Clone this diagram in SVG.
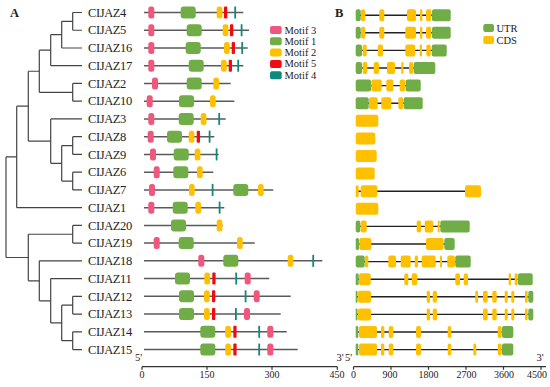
<svg xmlns="http://www.w3.org/2000/svg" xmlns:xlink="http://www.w3.org/1999/xlink" width="550" height="387" viewBox="0 0 550 387">
<style>
text{font-family:"Liberation Serif","Times New Roman",serif;fill:#222}
.lab{font-size:12.5px;letter-spacing:-0.4px}
.leg{font-size:10.5px}
.tk{font-size:10px;text-anchor:middle}
.pan{font-size:12.5px;font-weight:bold}
.tree{stroke:#444;stroke-width:1.2;fill:none}
.bb{stroke:#5a5a5a;stroke-width:1.5}
.gl{stroke:#222;stroke-width:1.4}
.ax{stroke:#333;stroke-width:1.2;fill:none}
.m3{fill:#F0577F}.m1{fill:#70AD47}.m2{fill:#FFC000}.m5{fill:#F00A14}.m4{fill:#0E8A7C}
.utr{fill:#70AD47}.cds{fill:#FFC000}
</style>
<defs>
<rect id="p" y="-6" width="6" height="12" rx="2.5" class="m3"/>
<rect id="g" y="-6" width="15" height="12" rx="3" class="m1"/>
<rect id="y" y="-6" width="5.7" height="12" rx="2.5" class="m2"/>
<rect id="r" y="-6" width="3.3" height="12" rx="1" class="m5"/>
<rect id="t" y="-6" width="1.8" height="12" class="m4"/>
</defs>

<g id="labelA"><text class="pan" x="10" y="16.5">A</text></g>
<g id="labelB"><text class="pan" x="335" y="16.5">B</text></g>

<g id="tree" class="tree">
<path d="M72.7,12.5H82M72.7,30.24H82M72.7,12.5V30.24"/>
<path d="M61.7,21.37H72.7M61.7,47.98H82M61.7,21.37V47.98"/>
<path d="M50.7,34.68H61.7M50.7,65.72H82M50.7,34.68V65.72"/>
<path d="M72.7,83.46H82M72.7,101.2H82M72.7,83.46V101.2"/>
<path d="M39.3,50.2H50.7M39.3,92.33H72.7M39.3,50.2V92.33"/>
<path d="M72.7,136.68H82M72.7,154.42H82M72.7,136.68V154.42"/>
<path d="M72.7,172.16H82M72.7,189.9H82M72.7,172.16V189.9"/>
<path d="M61.7,145.55H72.7M61.7,181.03H72.7M61.7,145.55V181.03"/>
<path d="M50.7,118.94H82M50.7,163.29H61.7M50.7,118.94V163.29"/>
<path d="M28.3,71.27H39.3M28.3,141.1H50.7M28.3,71.27V141.1"/>
<path d="M16.7,106.2H28.3M16.7,207.64H82M16.7,106.2V207.64"/>
<path d="M72.7,225.38H82M72.7,243.12H82M72.7,225.38V243.12"/>
<path d="M72.7,296.34H82M72.7,314.08H82M72.7,296.34V314.08"/>
<path d="M72.7,331.82H82M72.7,349.56H82M72.7,331.82V349.56"/>
<path d="M61.7,305.2H72.7M61.7,340.7H72.7M61.7,305.2V340.7"/>
<path d="M50.7,278.6H82M50.7,322.95H61.7M50.7,278.6V322.95"/>
<path d="M39.3,260.86H82M39.3,300.8H50.7M39.3,260.86V300.8"/>
<path d="M28.3,234.25H72.7M28.3,280.8H39.3M28.3,234.25V280.8"/>
<path d="M6,156.9H16.7M6,257.5H28.3M6,156.9V257.5"/>
</g>

<g id="labels">
<text class="lab" x="88" y="16.7">CIJAZ4</text>
<text class="lab" x="88" y="34.44">CIJAZ5</text>
<text class="lab" x="88" y="52.18">CIJAZ16</text>
<text class="lab" x="88" y="69.92">CIJAZ17</text>
<text class="lab" x="88" y="87.66">CIJAZ2</text>
<text class="lab" x="88" y="105.4">CIJAZ10</text>
<text class="lab" x="88" y="123.14">CIJAZ3</text>
<text class="lab" x="88" y="140.88">CIJAZ8</text>
<text class="lab" x="88" y="158.62">CIJAZ9</text>
<text class="lab" x="88" y="176.36">CIJAZ6</text>
<text class="lab" x="88" y="194.1">CIJAZ7</text>
<text class="lab" x="88" y="211.84">CIJAZ1</text>
<text class="lab" x="88" y="229.58">CIJAZ20</text>
<text class="lab" x="88" y="247.32">CIJAZ19</text>
<text class="lab" x="88" y="265.06">CIJAZ18</text>
<text class="lab" x="88" y="282.8">CIJAZ11</text>
<text class="lab" x="88" y="300.54">CIJAZ12</text>
<text class="lab" x="88" y="318.28">CIJAZ13</text>
<text class="lab" x="88" y="336.02">CIJAZ14</text>
<text class="lab" x="88" y="353.76">CIJAZ15</text>
</g>

<g id="motifs">
<g transform="translate(0,12.5)"><line class="bb" x1="144" x2="243.3"/><use href="#p" x="148.3"/><use href="#g" x="180.7"/><use href="#y" x="216.7"/><use href="#r" x="224"/><use href="#t" x="234.3"/></g>
<g transform="translate(0,30.24)"><line class="bb" x1="144" x2="249"/><use href="#p" x="148.3"/><use href="#g" x="186.7"/><use href="#y" x="222.7"/><use href="#r" x="230"/><use href="#t" x="240.7"/></g>
<g transform="translate(0,47.98)"><line class="bb" x1="144" x2="247.7"/><use href="#p" x="148.3"/><use href="#g" x="185.7"/><use href="#y" x="224"/><use href="#r" x="231.7"/><use href="#t" x="241.3"/></g>
<g transform="translate(0,65.72)"><line class="bb" x1="144" x2="243.3"/><use href="#p" x="148.3"/><use href="#g" x="188.7"/><use href="#y" x="221"/><use href="#r" x="228.7"/><use href="#t" x="237.3"/></g>
<g transform="translate(0,83.46)"><line class="bb" x1="144" x2="230.7"/><use href="#p" x="152"/><use href="#g" x="186.7"/><use href="#y" x="213.3"/></g>
<g transform="translate(0,101.2)"><line class="bb" x1="144" x2="234.3"/><use href="#p" x="146.7"/><use href="#g" x="179"/><use href="#y" x="210"/></g>
<g transform="translate(0,118.94)"><line class="bb" x1="144" x2="225.7"/><use href="#p" x="148.3"/><use href="#g" x="178.7"/><use href="#y" x="200.7"/><use href="#t" x="218.3"/></g>
<g transform="translate(0,136.68)"><line class="bb" x1="144" x2="214.3"/><use href="#p" x="147.7"/><use href="#g" x="167"/><use href="#y" x="188.7"/><use href="#r" x="196.7"/><use href="#t" x="208.7"/></g>
<g transform="translate(0,154.42)"><line class="bb" x1="144" x2="218.7"/><use href="#p" x="150"/><use href="#g" x="173.7"/><use href="#y" x="194.7"/><use href="#t" x="215.7"/></g>
<g transform="translate(0,172.16)"><line class="bb" x1="144" x2="213.3"/><use href="#p" x="153.7"/><use href="#g" x="173.3"/><use href="#y" x="197"/></g>
<g transform="translate(0,189.9)"><line class="bb" x1="144" x2="273.3"/><use href="#p" x="149"/><use href="#y" x="189"/><use href="#t" x="211.7"/><use href="#g" x="233.3"/><use href="#y" x="258"/></g>
<g transform="translate(0,207.64)"><line class="bb" x1="144" x2="224.3"/><use href="#p" x="148.3"/><use href="#g" x="172.7"/><use href="#y" x="195.3"/><use href="#t" x="218.7"/></g>
<g transform="translate(0,225.38)"><line class="bb" x1="144" x2="222.7"/><use href="#g" x="171"/><use href="#y" x="216.7"/></g>
<g transform="translate(0,243.12)"><line class="bb" x1="144" x2="254.7"/><use href="#p" x="153.7"/><use href="#g" x="178.7"/><use href="#y" x="237"/></g>
<g transform="translate(0,260.86)"><line class="bb" x1="144" x2="322.3"/><use href="#p" x="198.3"/><use href="#g" x="223.3"/><use href="#y" x="287.7"/><use href="#t" x="312.3"/></g>
<g transform="translate(0,278.6)"><line class="bb" x1="144" x2="269.3"/><use href="#g" x="175"/><use href="#y" x="204.3"/><use href="#r" x="212.3"/><use href="#t" x="235.3"/><use href="#p" x="244.7"/></g>
<g transform="translate(0,296.34)"><line class="bb" x1="144" x2="290.7"/><use href="#g" x="179"/><use href="#y" x="204"/><use href="#r" x="212"/><use href="#t" x="244.7"/><use href="#p" x="253.7"/></g>
<g transform="translate(0,314.08)"><line class="bb" x1="144" x2="280.7"/><use href="#g" x="179"/><use href="#y" x="204"/><use href="#r" x="212"/><use href="#t" x="235"/><use href="#p" x="244"/></g>
<g transform="translate(0,331.82)"><line class="bb" x1="144" x2="286.7"/><use href="#g" x="200.3"/><use href="#y" x="225.3"/><use href="#r" x="233.3"/><use href="#t" x="258.3"/><use href="#p" x="267.3"/></g>
<g transform="translate(0,349.56)"><line class="bb" x1="144" x2="297.7"/><use href="#g" x="200.3"/><use href="#y" x="225.3"/><use href="#r" x="233.3"/><use href="#t" x="258.3"/><use href="#p" x="267.3"/></g>
</g>

<g id="legendA">
<rect x="270" y="26" width="11.7" height="8" rx="2" class="m3"/><text class="leg" x="284.5" y="33.5">Motif 3</text>
<rect x="270" y="37.3" width="11.7" height="8" rx="2" class="m1"/><text class="leg" x="284.5" y="44.8">Motif 1</text>
<rect x="270" y="48.6" width="11.7" height="8" rx="2" class="m2"/><text class="leg" x="284.5" y="56">Motif 2</text>
<rect x="270" y="59.9" width="11.7" height="8" rx="2" class="m5"/><text class="leg" x="284.5" y="67.3">Motif 5</text>
<rect x="270" y="71.2" width="11.7" height="8" rx="2" class="m4"/><text class="leg" x="284.5" y="78.6">Motif 4</text>
</g>

<g id="genes">
<g transform="translate(0,15.2)"><line class="gl" x1="356" x2="450"/>
<rect class="utr" x="355.7" y="-6" width="5" height="12" rx="2"/><rect class="cds" x="361" y="-6" width="4.3" height="12" rx="2"/><rect class="cds" x="379.3" y="-6" width="5" height="12" rx="2"/><rect class="cds" x="407" y="-6" width="9" height="12" rx="2"/><rect class="cds" x="420" y="-6" width="2.3" height="12" rx="1"/><rect class="cds" x="426" y="-6" width="5.3" height="12" rx="2"/><rect class="utr" x="432" y="-6" width="18.7" height="12" rx="2"/></g>
<g transform="translate(0,32.8)"><line class="gl" x1="356" x2="450"/>
<rect class="utr" x="355.7" y="-6" width="5" height="12" rx="2"/><rect class="cds" x="361" y="-6" width="4.3" height="12" rx="2"/><rect class="cds" x="379.3" y="-6" width="5" height="12" rx="2"/><rect class="cds" x="405.3" y="-6" width="10.7" height="12" rx="2"/><rect class="cds" x="420" y="-6" width="2.3" height="12" rx="1"/><rect class="cds" x="426" y="-6" width="5.3" height="12" rx="2"/><rect class="utr" x="432" y="-6" width="18.7" height="12" rx="2"/></g>
<g transform="translate(0,50.4)"><line class="gl" x1="356" x2="446"/>
<rect class="utr" x="355.7" y="-6" width="6.3" height="12" rx="2"/><rect class="cds" x="362.7" y="-6" width="4" height="12" rx="2"/><rect class="cds" x="377.7" y="-6" width="5.3" height="12" rx="2"/><rect class="cds" x="405.3" y="-6" width="10" height="12" rx="2"/><rect class="cds" x="419.7" y="-6" width="2.3" height="12" rx="1"/><rect class="cds" x="426.3" y="-6" width="4.4" height="12" rx="2"/><rect class="utr" x="431.7" y="-6" width="15" height="12" rx="2"/></g>
<g transform="translate(0,68)"><line class="gl" x1="356" x2="435"/>
<rect class="utr" x="355.7" y="-6" width="6.3" height="12" rx="2"/><rect class="cds" x="362.7" y="-6" width="4.6" height="12" rx="2"/><rect class="cds" x="373.7" y="-6" width="5.3" height="12" rx="2"/><rect class="cds" x="387" y="-6" width="8" height="12" rx="2"/><rect class="cds" x="401.3" y="-6" width="2" height="12" rx="1"/><rect class="cds" x="409" y="-6" width="4.3" height="12" rx="2"/><rect class="utr" x="413.7" y="-6" width="21.6" height="12" rx="2"/></g>
<g transform="translate(0,85.6)"><line class="gl" x1="356" x2="420"/>
<rect class="utr" x="355.7" y="-6" width="15.3" height="12" rx="2"/><rect class="cds" x="371.3" y="-6" width="10.4" height="12" rx="2"/><rect class="cds" x="386.3" y="-6" width="7" height="12" rx="2"/><rect class="cds" x="399.7" y="-6" width="5.6" height="12" rx="2"/><rect class="utr" x="405.7" y="-6" width="15" height="12" rx="2"/></g>
<g transform="translate(0,103.2)"><line class="gl" x1="356" x2="422"/>
<rect class="utr" x="355.7" y="-6" width="13" height="12" rx="2"/><rect class="cds" x="369" y="-6" width="8.7" height="12" rx="2"/><rect class="cds" x="381.3" y="-6" width="10" height="12" rx="2"/><rect class="cds" x="398.3" y="-6" width="5" height="12" rx="2"/><rect class="utr" x="403.7" y="-6" width="19" height="12" rx="2"/></g>
<g transform="translate(0,120.8)"><rect class="cds" x="355.7" y="-6" width="22.6" height="12" rx="2"/></g>
<g transform="translate(0,138.4)"><rect class="cds" x="355.7" y="-6" width="19.6" height="12" rx="2"/></g>
<g transform="translate(0,156)"><rect class="cds" x="355.7" y="-6" width="21" height="12" rx="2"/></g>
<g transform="translate(0,173.6)"><rect class="cds" x="355.7" y="-6" width="19" height="12" rx="2"/></g>
<g transform="translate(0,191.2)"><line class="gl" x1="356" x2="480"/>
<rect class="cds" x="355.7" y="-6" width="3" height="12" rx="1.5"/><rect class="cds" x="360.7" y="-6" width="16.6" height="12" rx="2"/><rect class="cds" x="465" y="-6" width="16" height="12" rx="2"/></g>
<g transform="translate(0,208.8)"><rect class="cds" x="355.7" y="-6" width="22.6" height="12" rx="2"/></g>
<g transform="translate(0,226.4)"><line class="gl" x1="356" x2="469"/>
<rect class="utr" x="355.7" y="-6" width="4.6" height="12" rx="2"/><rect class="cds" x="360.7" y="-6" width="6" height="12" rx="2"/><rect class="cds" x="416.7" y="-6" width="4.3" height="12" rx="2"/><rect class="cds" x="424.7" y="-6" width="8.6" height="12" rx="2"/><rect class="cds" x="437.7" y="-6" width="2" height="12" rx="1"/><rect class="utr" x="440.3" y="-6" width="29.4" height="12" rx="2"/></g>
<g transform="translate(0,244)"><line class="gl" x1="356" x2="454"/>
<rect class="utr" x="355.7" y="-6" width="3.3" height="12" rx="1.5"/><rect class="cds" x="359.3" y="-6" width="12" height="12" rx="2"/><rect class="cds" x="426" y="-6" width="17.7" height="12" rx="2"/><rect class="utr" x="444.3" y="-6" width="10.4" height="12" rx="2"/></g>
<g transform="translate(0,261.6)"><line class="gl" x1="356" x2="470"/>
<rect class="utr" x="355.7" y="-6" width="9" height="12" rx="2"/><rect class="cds" x="365" y="-6" width="3.3" height="12" rx="1.5"/><rect class="cds" x="388.3" y="-6" width="7.7" height="12" rx="2"/><rect class="cds" x="400.7" y="-6" width="10" height="12" rx="2"/><rect class="cds" x="414.7" y="-6" width="3.3" height="12" rx="1.5"/><rect class="cds" x="421.7" y="-6" width="14" height="12" rx="2"/><rect class="cds" x="440" y="-6" width="2" height="12" rx="1"/><rect class="cds" x="447.3" y="-6" width="7.7" height="12" rx="2"/><rect class="utr" x="455.3" y="-6" width="15.4" height="12" rx="2"/></g>
<g transform="translate(0,279.2)"><line class="gl" x1="356" x2="532"/>
<rect class="utr" x="355.7" y="-6" width="3" height="12" rx="1.5"/><rect class="cds" x="359" y="-6" width="11.7" height="12" rx="2"/><rect class="cds" x="404.3" y="-6" width="4" height="12" rx="2"/><rect class="cds" x="411.7" y="-6" width="5.6" height="12" rx="2"/><rect class="cds" x="455.3" y="-6" width="4.7" height="12" rx="2"/><rect class="cds" x="463.7" y="-6" width="4.3" height="12" rx="2"/><rect class="cds" x="508.7" y="-6" width="2.3" height="12" rx="1"/><rect class="cds" x="514.7" y="-6" width="3" height="12" rx="1.5"/><rect class="utr" x="518" y="-6" width="14.7" height="12" rx="2"/></g>
<g transform="translate(0,296.8)"><line class="gl" x1="356" x2="533"/>
<rect class="utr" x="355.7" y="-6" width="1.8" height="12" rx="0.9"/><rect class="cds" x="358" y="-6" width="13" height="12" rx="2"/><rect class="cds" x="426.7" y="-6" width="3.3" height="12" rx="1.5"/><rect class="cds" x="432.7" y="-6" width="4.3" height="12" rx="2"/><rect class="cds" x="475.3" y="-6" width="2.7" height="12" rx="1.3"/><rect class="cds" x="483" y="-6" width="4.7" height="12" rx="2"/><rect class="cds" x="492.3" y="-6" width="4.4" height="12" rx="2"/><rect class="cds" x="504.7" y="-6" width="3" height="12" rx="1.5"/><rect class="cds" x="511.3" y="-6" width="3" height="12" rx="1.5"/><rect class="cds" x="525" y="-6" width="2.7" height="12" rx="1.3"/><rect class="utr" x="528.3" y="-6" width="5" height="12" rx="2"/></g>
<g transform="translate(0,314.4)"><line class="gl" x1="356" x2="533"/>
<rect class="utr" x="355.7" y="-6" width="1.8" height="12" rx="0.9"/><rect class="cds" x="358" y="-6" width="13" height="12" rx="2"/><rect class="cds" x="426.7" y="-6" width="3.3" height="12" rx="1.5"/><rect class="cds" x="432.7" y="-6" width="4.3" height="12" rx="2"/><rect class="cds" x="483" y="-6" width="4.7" height="12" rx="2"/><rect class="cds" x="492.3" y="-6" width="4.4" height="12" rx="2"/><rect class="cds" x="504.7" y="-6" width="3" height="12" rx="1.5"/><rect class="cds" x="511.3" y="-6" width="3" height="12" rx="1.5"/><rect class="cds" x="525" y="-6" width="2.7" height="12" rx="1.3"/><rect class="utr" x="528.3" y="-6" width="5" height="12" rx="2"/></g>
<g transform="translate(0,332)"><line class="gl" x1="356" x2="513"/>
<rect class="utr" x="355.7" y="-6" width="2.6" height="12" rx="1.3"/><rect class="cds" x="359" y="-6" width="18" height="12" rx="2"/><rect class="cds" x="381" y="-6" width="3.3" height="12" rx="1.5"/><rect class="cds" x="388.7" y="-6" width="4.6" height="12" rx="2"/><rect class="cds" x="416" y="-6" width="5" height="12" rx="2"/><rect class="cds" x="447.7" y="-6" width="3.6" height="12" rx="1.8"/><rect class="cds" x="497.7" y="-6" width="4" height="12" rx="2"/><rect class="utr" x="502" y="-6" width="11.3" height="12" rx="2"/></g>
<g transform="translate(0,349.6)"><line class="gl" x1="356" x2="513"/>
<rect class="utr" x="355.7" y="-6" width="2.6" height="12" rx="1.3"/><rect class="cds" x="359" y="-6" width="18" height="12" rx="2"/><rect class="cds" x="381" y="-6" width="3.3" height="12" rx="1.5"/><rect class="cds" x="388.7" y="-6" width="4.6" height="12" rx="2"/><rect class="cds" x="416" y="-6" width="5" height="12" rx="2"/><rect class="cds" x="447.7" y="-6" width="3.6" height="12" rx="1.8"/><rect class="cds" x="473.3" y="-6" width="3" height="12" rx="1.5"/><rect class="cds" x="497.7" y="-6" width="4" height="12" rx="2"/><rect class="utr" x="502" y="-6" width="11.3" height="12" rx="2"/></g>
</g>

<g id="legendB">
<rect x="483.3" y="24" width="10.7" height="8" rx="2" class="utr"/><text class="leg" x="496.5" y="31.5">UTR</text>
<rect x="483.3" y="36" width="10.7" height="8" rx="2" class="cds"/><text class="leg" x="496.5" y="43.5">CDS</text>
</g>

<g id="axisA">
<path class="ax" d="M142,366.7H337.3M142,366.7v3M207,366.7v3M272,366.7v3M337.3,366.7v3"/>
<text class="tk" x="142" y="378">0</text><text class="tk" x="207" y="378">150</text><text class="tk" x="272" y="378">300</text><text class="tk" x="337" y="378">450</text>
<text class="leg" x="135" y="361">5'</text><text class="leg" x="336.5" y="361">3'</text>
</g>
<g id="axisB">
<path class="ax" d="M353.5,366.7H546M353.5,366.7v3M391,366.7v3M428.5,366.7v3M466,366.7v3M503.5,366.7v3M541,366.7v3"/>
<text class="tk" x="353.5" y="378">0</text><text class="tk" x="390" y="378">900</text><text class="tk" x="428.5" y="378">1800</text><text class="tk" x="466.5" y="378">2700</text><text class="tk" x="504" y="378">3600</text><text class="tk" x="537" y="378">4500</text>
<text class="leg" x="345" y="361">5'</text><text class="leg" x="536.5" y="361">3'</text>
</g>
</svg>
